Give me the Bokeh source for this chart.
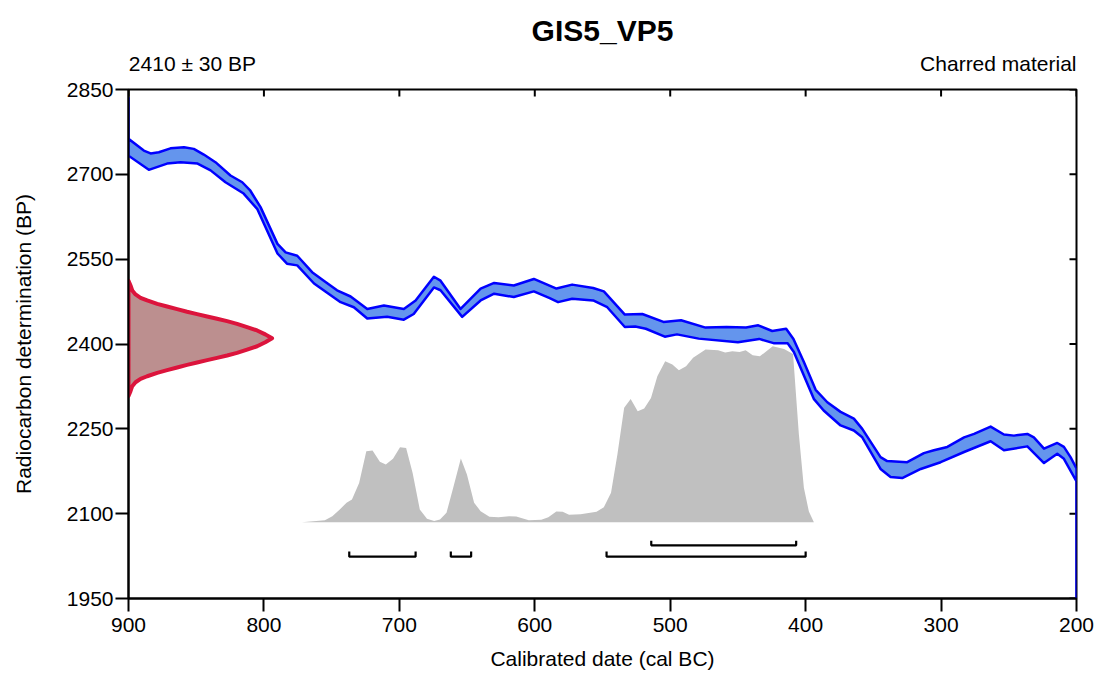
import numpy as np
from bokeh.plotting import figure
from bokeh.models import Range1d, LinearAxis, FixedTicker
from bokeh.embed import file_html
from bokeh.resources import INLINE

# ---------------- data ----------------
title_text = "GIS5_VP5"
date_text = "2410 ± 30 BP"
material_text = "Charred material"

x_ticks = [900, 800, 700, 600, 500, 400, 300, 200]
y_ticks = [1950, 2100, 2250, 2400, 2550, 2700, 2850]

# calibration curve, upper edge (cal BC, BP)
cal_upper_date = [920, 910, 900, 888.7, 883.7, 877.6, 869, 859, 851.8, 844.4, 835.8, 824.7, 816, 810,
                  802.5, 790, 784, 775.4, 764.4, 755.8, 746, 736, 723.7, 711.4, 696.7, 688, 674.5,
                  669.6, 654.8, 640, 630, 615.5, 600.7, 584, 572.4, 556.9, 549, 533.5, 520.6, 505,
                  492, 473.9, 458.4, 444, 435, 424.7, 414.4, 409, 401.3, 392.6, 384, 374.2, 364.4,
                  358.2, 344.7, 339.8, 325, 312.7, 305.3, 295.4, 283, 275.6, 263.4, 253.6, 246.2,
                  236.3, 231.5, 224, 214.2, 209.3, 204.4, 200, 195, 190, 185]
cal_upper_bp = [2835, 2800, 2763, 2742, 2737, 2739, 2746, 2748, 2745, 2735, 2721.5, 2698, 2686, 2671,
                2642, 2577, 2562, 2556, 2527, 2512, 2495, 2484, 2462, 2468, 2462, 2477, 2519,
                2512, 2462, 2498, 2508, 2503.5, 2515, 2498, 2505, 2499, 2493, 2452, 2453, 2439,
                2442, 2429, 2430, 2429, 2433, 2423, 2427, 2409, 2368, 2319, 2297, 2280, 2268,
                2250, 2200, 2193, 2191, 2207, 2212, 2218, 2235, 2241, 2254, 2240, 2238,
                2241, 2235, 2215, 2225, 2218, 2200, 2180, 2110, 2040, 1940]
# calibration curve, lower edge (cal BC, BP)
cal_lower_date = [920, 910, 900, 885, 871.5, 861.6, 849, 839.4, 828.4, 815, 805, 790, 783, 775.4, 763,
                  743.4, 733.6, 723.7, 709, 696.7, 689.4, 674.5, 669.6, 653.6, 640, 630, 615.5,
                  600.7, 589, 582.8, 572.4, 556.9, 546.5, 533.5, 525.8, 518, 504, 495, 479, 450,
                  434.3, 423.7, 413.3, 408.7, 394, 386.7, 374.2, 364.4, 358.2, 344.7, 337.3, 328.7,
                  315, 300.3, 283, 263.4, 253.6, 236.3, 224, 214.2, 209.3, 200, 195, 190, 185]
cal_lower_bp = [2805, 2775, 2733, 2708, 2719, 2721.5, 2719, 2707, 2686, 2666, 2639, 2560, 2542, 2539, 2507,
                2474, 2465, 2445, 2448, 2443, 2453, 2500, 2495, 2448, 2477, 2489, 2483,
                2493, 2481, 2474, 2480, 2477, 2465, 2430, 2431, 2427, 2413, 2417, 2409.5, 2403,
                2409, 2401.5, 2401.5, 2386, 2303, 2282.5, 2256, 2247, 2235, 2179, 2165, 2163,
                2179, 2191, 2209, 2228, 2212, 2219, 2189.5, 2206, 2197, 2157, 2090, 2020, 1930]

# radiocarbon measurement distribution (BP, relative probability)
c14_bp = [2512, 2503.5, 2494.6, 2487.6, 2481.7, 2477, 2471, 2466.3, 2461.6, 2457, 2452.8, 2448.6,
          2444.6, 2440.4, 2435.7, 2429.8, 2424, 2417, 2410,
          2403, 2396, 2390.2, 2384.3, 2379.6, 2375.4, 2371.4, 2367.2, 2363, 2358.4, 2353.7, 2349,
          2343, 2338.3, 2332.4, 2325.4, 2316.5, 2308]
c14_prob = [0.0, 0.014, 0.026, 0.049, 0.084, 0.13, 0.2, 0.269, 0.339, 0.408, 0.478, 0.548,
            0.617, 0.687, 0.756, 0.826, 0.896, 0.953, 1.0,
            0.953, 0.896, 0.826, 0.756, 0.687, 0.617, 0.548, 0.478, 0.408, 0.339, 0.269, 0.2,
            0.13, 0.084, 0.049, 0.026, 0.014, 0.0]

# calibrated distribution (cal BC, relative probability)
post_date = [772, 755, 749.5, 744, 739, 735, 729.7, 724.4, 719.8, 714.4, 710, 704.7, 699.5, 695,
             690.2, 684.9, 679.6, 674.3, 670, 665.2, 659.9, 654.6, 650.1, 644.8, 640, 633.5,
             626.8, 619, 613.7, 604.4, 595.2, 590, 584.1, 579.4, 574.7, 566.2, 554.4, 549,
             543.7, 539, 534, 529.2, 524, 519.2, 514.2, 509.5, 503.7, 498.4, 493.6, 488.3,
             483.1, 473.9, 464.6, 459.4, 454.1, 448.8, 444.3, 439.1, 433.8, 424.3, 415.9,
             409.3, 405, 401.3, 397.6, 393.9, 384]
post_prob = [0.0, 0.011, 0.034, 0.072, 0.11, 0.129, 0.223, 0.403, 0.407, 0.343, 0.328, 0.36, 0.426, 0.422,
             0.28, 0.072, 0.019, 0.006, 0.015, 0.053, 0.205, 0.362, 0.271, 0.11, 0.0625, 0.03,
             0.028, 0.034, 0.032, 0.011, 0.013, 0.028, 0.06, 0.059, 0.042, 0.045, 0.059, 0.085,
             0.167, 0.384, 0.65, 0.70, 0.63, 0.646, 0.706, 0.83, 0.915, 0.896, 0.864, 0.886,
             0.934, 0.981, 0.977, 0.964, 0.972, 0.968, 0.977, 0.949, 0.943, 1.0, 0.985,
             0.956, 0.5, 0.195, 0.06, 0.0, 0.0]

# highest posterior density ranges (cal BC)
hpd68_from = [514]
hpd68_to = [407]
hpd95_from = [737, 662, 547]
hpd95_to = [688, 647, 400]

# ---------------- figure ----------------
FONT = "Liberation Sans"
FS = 21
X0, X1 = 900, 200
Y0, Y1 = 1950, 2850
W, H = 1094, 673
ML, MR, MT, MB = 128, 18, 89, 75
FRAME_W, FRAME_H = W - ML - MR, H - MT - MB
px_per_year = FRAME_W / abs(X0 - X1)
px_per_bp = FRAME_H / abs(Y1 - Y0)

p = figure(width=W, height=H, x_range=Range1d(X0, X1), y_range=Range1d(Y0, Y1),
           output_backend="svg", toolbar_location=None,
           min_border_left=ML, min_border_right=MR, min_border_top=MT, min_border_bottom=MB)
p.outline_line_color = "black"
p.outline_line_width = 2
p.grid.visible = False
p.background_fill_color = "white"
p.border_fill_color = "white"

p.title.text = title_text
p.title.align = "center"
p.title.text_font = FONT
p.title.text_font_size = "30px"
p.title.text_font_style = "bold"
p.title.text_color = "black"
p.title.standoff = 4


def style_axis(ax):
    ax.axis_line_color = "black"
    ax.axis_line_width = 2
    ax.major_tick_line_color = "black"
    ax.major_tick_line_width = 2
    ax.minor_tick_line_color = None
    ax.major_label_text_font = FONT
    ax.major_label_text_font_size = f"{FS}px"
    ax.major_label_text_color = "black"
    ax.axis_label_text_font = FONT
    ax.axis_label_text_font_size = f"{FS}px"
    ax.axis_label_text_font_style = "normal"
    ax.axis_label_text_color = "black"


xa = p.xaxis[0]
xa.ticker = FixedTicker(ticks=x_ticks)
style_axis(xa)
xa.major_tick_out = 13
xa.major_tick_in = 0
xa.major_label_standoff = 6
xa.axis_label = "Calibrated date (cal BC)"
xa.axis_label_standoff = 12

ya = p.yaxis[0]
ya.ticker = FixedTicker(ticks=y_ticks)
style_axis(ya)
ya.major_tick_out = 13
ya.major_tick_in = 0
ya.major_label_standoff = 2
ya.axis_label = "Radiocarbon determination (BP)"
ya.axis_label_standoff = 29

# sub-title line above the frame: measurement (left) and material (right)
em_date, em_mat = 6.088, 7.446          # text widths in em (Arial metrics)
date_pos = X0 - (em_date * FS / 2) / px_per_year
mat_pos = X1 + (em_mat * FS / 2) / px_per_year
sub = LinearAxis(ticker=FixedTicker(ticks=[date_pos, mat_pos]))
style_axis(sub)
sub.axis_line_color = None
sub.major_tick_line_color = None
sub.major_tick_in = 0
sub.major_tick_out = 0
sub.major_label_standoff = 15
sub.major_label_overrides = {date_pos: date_text, mat_pos: material_text}
p.add_layout(sub, "above")

# inward ticks on the top and right edges of the frame
tick_in = 7
p.segment(x0=x_ticks, y0=[Y1] * len(x_ticks), x1=x_ticks,
          y1=[Y1 - tick_in / px_per_bp] * len(x_ticks), line_color="black", line_width=2)
p.segment(x0=[X1] * len(y_ticks), y0=y_ticks, x1=[X1 + tick_in / px_per_year] * len(y_ticks),
          y1=y_ticks, line_color="black", line_width=2)

# ---------------- calibrated distribution (grey) ----------------
post_base = 2085          # baseline of the calibrated distribution (BP axis)
post_scale = 311          # height of the distribution peak in BP units
pd = np.array(post_date, dtype=float)
pp = np.array(post_prob, dtype=float)
p.varea(x=pd, y1=np.full_like(pd, post_base), y2=post_base + pp * post_scale,
        fill_color="#C0C0C0", fill_alpha=1.0)

# ---------------- calibration curve band ----------------
ux = np.clip(np.array(cal_upper_date, dtype=float), X1, X0)
lx = np.clip(np.array(cal_lower_date, dtype=float), X1, X0)
band_x = np.concatenate([ux, lx[::-1]])
band_y = np.concatenate([np.array(cal_upper_bp, float), np.array(cal_lower_bp, float)[::-1]])
p.patch(band_x, band_y, fill_color="#6495ED", line_color="#0000FF", line_width=2.5,
        line_join="round")

# ---------------- radiocarbon date (red) ----------------
c14_scale = 106           # peak height in calendar years
cx = X0 - np.array(c14_prob) * c14_scale
p.patch(cx, c14_bp, fill_color="#BC8F8F", line_color="#DC143C", line_width=4,
        line_join="round")

# ---------------- hpd range brackets ----------------
def brackets(froms, tos, ylev, hook):
    xs, ys = [], []
    for a, b in zip(froms, tos):
        xs.append([a, a, b, b])
        ys.append([ylev + hook, ylev, ylev, ylev + hook])
    p.multi_line(xs, ys, line_color="black", line_width=2.2)

brackets(hpd68_from, hpd68_to, 2044, 8)
brackets(hpd95_from, hpd95_to, 2024, 9)

open("out.html", "w").write(file_html(p, INLINE))
